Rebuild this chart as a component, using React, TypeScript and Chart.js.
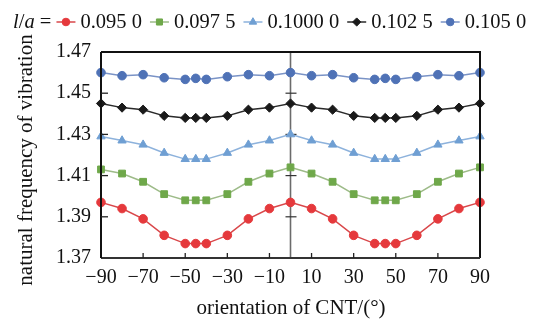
import React, { useEffect, useRef } from 'react';
import { Chart, registerables } from 'chart.js';
import { drawPoint } from 'chart.js/helpers';
Chart.register(...registerables);

const angles = [-90, -80, -70, -60, -50, -45, -40, -30, -20, -10, 0, 10, 20, 30, 40, 45, 50, 60, 70, 80, 90];
const seriesLabels = ['0.095 0', '0.097 5', '0.1000 0', '0.102 5', '0.105 0'];
const la0950 = [1.397, 1.394, 1.389, 1.381, 1.377, 1.377, 1.377, 1.381, 1.389, 1.394, 1.397, 1.394, 1.389, 1.381, 1.377, 1.377, 1.377, 1.381, 1.389, 1.394, 1.397];
const la0975 = [1.413, 1.411, 1.407, 1.401, 1.398, 1.398, 1.398, 1.401, 1.407, 1.411, 1.414, 1.411, 1.407, 1.401, 1.398, 1.398, 1.398, 1.401, 1.407, 1.411, 1.414];
const la1000 = [1.429, 1.427, 1.425, 1.421, 1.418, 1.418, 1.418, 1.421, 1.425, 1.427, 1.430, 1.427, 1.425, 1.421, 1.418, 1.418, 1.418, 1.421, 1.425, 1.427, 1.429];
const la1025 = [1.445, 1.443, 1.442, 1.439, 1.438, 1.438, 1.438, 1.439, 1.442, 1.443, 1.445, 1.443, 1.442, 1.439, 1.438, 1.438, 1.438, 1.439, 1.442, 1.443, 1.445];
const la1050 = [1.460, 1.4585, 1.459, 1.4575, 1.4567, 1.4572, 1.4567, 1.458, 1.459, 1.4585, 1.460, 1.4585, 1.459, 1.4575, 1.4567, 1.4572, 1.4567, 1.458, 1.459, 1.4585, 1.460];
const xTickValues = [-90, -70, -50, -30, -10, 10, 30, 50, 70, 90];
const yTickValues = [1.37, 1.39, 1.41, 1.43, 1.45, 1.47];
const xTitle = 'orientation of CNT/(°)';
const yTitle = 'natural frequency of vibration';

const FONT = '"Liberation Serif", "Times New Roman", serif';

const styles = [
  { point: '#e5393c', line: '#d9474a', style: 'circle', r: 4.3, rot: 0 },
  { point: '#6fa84a', line: '#9dbb88', style: 'rect', r: 4.8, rot: 0 },
  { point: '#6f9fd3', line: '#8db2dc', style: 'triangle', r: 4.8, rot: 0 },
  { point: '#1a1a1a', line: '#2a2a2a', style: 'rectRot', r: 4.6, rot: 0 },
  { point: '#4f72b6', line: '#7a93c6', style: 'circle', r: 4.3, rot: 0 },
];

const allSeries = [la0950, la0975, la1000, la1025, la1050];

const framePlugin = {
  id: 'frame',
  beforeDatasetsDraw(chart: any) {
    const ctx = chart.ctx;
    const xs = chart.scales.x;
    const ys = chart.scales.y;
    const { top, bottom } = chart.chartArea;
    const x0 = xs.getPixelForValue(0);
    ctx.save();
    ctx.strokeStyle = '#6b6b6b';
    ctx.lineWidth = 1.6;
    ctx.beginPath();
    ctx.moveTo(x0, top);
    ctx.lineTo(x0, bottom);
    ctx.stroke();
    ctx.strokeStyle = '#333';
    ctx.lineWidth = 1.2;
    for (const v of yTickValues.slice(1, -1)) {
      const y = ys.getPixelForValue(v);
      ctx.beginPath();
      ctx.moveTo(x0 - 5, y);
      ctx.lineTo(x0 + 6, y);
      ctx.stroke();
    }
    ctx.restore();
  },
  afterDraw(chart: any) {
    const ctx = chart.ctx;
    const xs = chart.scales.x;
    const ys = chart.scales.y;
    const { left, right, top, bottom } = chart.chartArea;
    ctx.save();
    ctx.strokeStyle = '#111';
    ctx.lineWidth = 2;
    ctx.beginPath();
    ctx.moveTo(left, top);
    ctx.lineTo(right, top);
    ctx.lineTo(right, bottom);
    ctx.stroke();
    ctx.strokeStyle = '#333';
    ctx.beginPath();
    ctx.moveTo(left, bottom);
    ctx.lineTo(right, bottom);
    ctx.stroke();
    ctx.strokeStyle = '#111';
    ctx.beginPath();
    ctx.moveTo(left, top);
    ctx.lineTo(left, bottom);
    ctx.stroke();
    ctx.lineWidth = 1.3;
    ctx.strokeStyle = '#222';
    for (const v of yTickValues.slice(1, -1)) {
      const y = ys.getPixelForValue(v);
      ctx.beginPath();
      ctx.moveTo(left, y);
      ctx.lineTo(left + 7, y);
      ctx.stroke();
    }
    for (const v of xTickValues.slice(1, -1)) {
      const x = xs.getPixelForValue(v);
      ctx.beginPath();
      ctx.moveTo(x, bottom);
      ctx.lineTo(x, bottom - 5);
      ctx.stroke();
    }
    // axis titles
    ctx.fillStyle = '#111';
    ctx.font = `21px ${FONT}`;
    ctx.textAlign = 'center';
    ctx.textBaseline = 'alphabetic';
    ctx.fillText(xTitle, 291, 314);
    ctx.save();
    ctx.translate(32, 160);
    ctx.rotate(-Math.PI / 2);
    ctx.fillText(yTitle, 0, 0);
    ctx.restore();
    // legend
    let x = 13;
    const tb = 28;
    const ly = 22;
    ctx.textAlign = 'left';
    ctx.textBaseline = 'alphabetic';
    const parts: [string, boolean][] = [['l', true], ['/', false], ['a', true], [' = ', false]];
    for (const [t, it] of parts) {
      ctx.font = `${it ? 'italic ' : ''}20.5px ${FONT}`;
      ctx.fillText(t, x, tb);
      x += ctx.measureText(t).width;
    }
    ctx.font = `20.5px ${FONT}`;
    seriesLabels.forEach((lab, i) => {
      const st = styles[i];
      ctx.strokeStyle = st.line;
      ctx.lineWidth = 1.5;
      ctx.beginPath();
      ctx.moveTo(x, ly);
      ctx.lineTo(x + 19, ly);
      ctx.stroke();
      ctx.fillStyle = st.point;
      ctx.strokeStyle = st.point;
      ctx.lineWidth = 1;
      drawPoint(ctx, { pointStyle: st.style, radius: st.r - 0.5, rotation: st.rot, borderWidth: 1 } as any, x + 9.5, ly);
      ctx.fillStyle = '#111';
      ctx.fillText(lab, x + 24, tb);
      x += 24 + ctx.measureText(lab).width + 8;
    });
    ctx.restore();
  },
};

export default function App() {
  const ref = useRef<HTMLCanvasElement | null>(null);
  useEffect(() => {
    if (!ref.current) return;
    const chart = new Chart(ref.current, {
      type: 'line',
      data: {
        datasets: allSeries.map((arr, i) => ({
          label: seriesLabels[i],
          data: angles.map((a, j) => ({ x: a, y: arr[j] })),
          borderColor: styles[i].line,
          backgroundColor: styles[i].point,
          pointBackgroundColor: styles[i].point,
          pointBorderColor: styles[i].point,
          pointStyle: styles[i].style as any,
          pointRadius: styles[i].r,
          pointBorderWidth: 1,
          borderWidth: 1.5,
          tension: 0,
          clip: false as any,
        })),
      },
      options: {
        animation: false,
        responsive: false,
        events: [],
        layout: { padding: { left: 0, right: 57, top: 52, bottom: 0 } },
        plugins: { legend: { display: false }, tooltip: { enabled: false } },
        scales: {
          x: {
            type: 'linear',
            min: -90,
            max: 90,
            grid: { display: false, drawTicks: false },
            border: { display: false },
            afterBuildTicks: (s: any) => { s.ticks = xTickValues.map((v) => ({ value: v })); },
            afterFit: (s: any) => { s.height = 63; },
            ticks: {
              autoSkip: false,
              maxRotation: 0,
              padding: 8,
              color: '#111',
              font: { family: FONT, size: 20 },
              callback: (v: any) => (v < 0 ? '\u2212' + Math.abs(v) : String(v)),
            },
          },
          y: {
            type: 'linear',
            min: 1.37,
            max: 1.47,
            grid: { display: false, drawTicks: false },
            border: { display: false },
            afterBuildTicks: (s: any) => { s.ticks = yTickValues.map((v) => ({ value: v })); },
            afterFit: (s: any) => { s.width = 101; },
            ticks: {
              padding: 10,
              color: '#111',
              font: { family: FONT, size: 20 },
              callback: (v: any) => Number(v).toFixed(2),
            },
          },
        },
      },
      plugins: [framePlugin],
    });
    return () => chart.destroy();
  }, []);
  return (
    <div style={{ position: 'absolute', left: 0, top: 0, width: 537, height: 321, background: '#fff' }}>
      <canvas ref={ref} width={537} height={321} />
    </div>
  );
}
